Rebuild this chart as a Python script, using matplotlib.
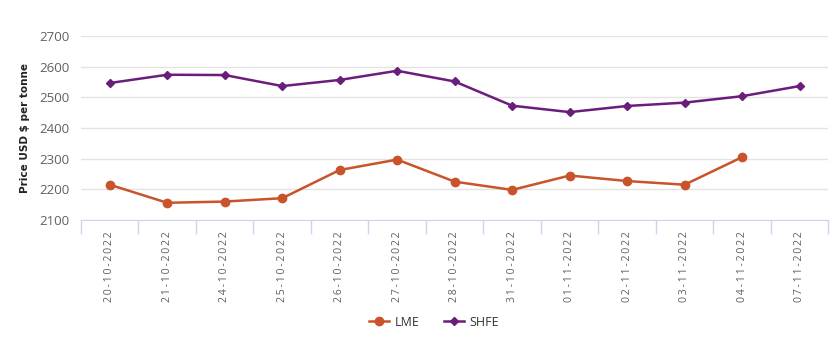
import matplotlib
matplotlib.use("Agg")
import matplotlib.pyplot as plt
import numpy as np

dates = ["20-10-2022", "21-10-2022", "24-10-2022", "25-10-2022", "26-10-2022",
         "27-10-2022", "28-10-2022", "31-10-2022", "01-11-2022", "02-11-2022",
         "03-11-2022", "04-11-2022", "07-11-2022"]
lme = [2215, 2156, 2160, 2171, 2263, 2297, 2225, 2198, 2245, 2227, 2215, 2305, np.nan]
shfe = [2547, 2574, 2573, 2537, 2557, 2587, 2552, 2473, 2452, 2472, 2483, 2504, 2537]
yticks = [2100, 2200, 2300, 2400, 2500, 2600, 2700]

fig = plt.figure(figsize=(8.35, 3.41), dpi=100)
ax = fig.add_axes([0.097, 0.355, 0.895, 0.539])
x = np.arange(len(dates))
ax.plot(x, lme, color="#c9532a", lw=1.8, marker="o", ms=6, label="LME", zorder=3)
ax.plot(x, shfe, color="#6b1d7c", lw=1.8, marker="D", ms=4.5, label="SHFE", zorder=3)

ax.set_xlim(-0.5, len(dates) - 0.5)
ax.set_ylim(2100, 2700)
ax.set_yticks(yticks)
ax.set_yticklabels([str(v) for v in yticks], color="#606060", fontsize=9.5, family="Open Sans")
ax.yaxis.grid(True, color="#e3e3e3", lw=1)
ax.set_axisbelow(True)
for s in ["top", "right", "left"]:
    ax.spines[s].set_visible(False)
ax.spines["bottom"].set_color("#ccd6eb")
ax.tick_params(axis="y", length=0, pad=8)

ax.set_xticks(x)
spaced = ["\u2009".join(d) for d in dates]
ax.set_xticklabels(spaced, rotation=90, color="#606060", fontsize=7.6, family="Open Sans")
ax.tick_params(axis="x", length=0, pad=8)
ax.set_xticks(np.arange(-0.5, len(dates)), minor=True)
ax.tick_params(axis="x", which="minor", length=10, color="#ccd6eb", width=1)

ax.set_ylabel("Price USD $ per tonne", fontsize=7.5, fontweight="bold", color="#222222", labelpad=10)
ax.yaxis.set_label_coords(-0.068, 0.5)

leg = fig.legend(loc="center", bbox_to_anchor=(0.52, 0.055), ncol=2, frameon=False,
                 handlelength=1.6, columnspacing=2.0, handletextpad=0.4,
                 prop={"family": "Open Sans", "size": 9})
for t in leg.get_texts():
    t.set_color("#333333")
fig.savefig("out.png", dpi=100)
